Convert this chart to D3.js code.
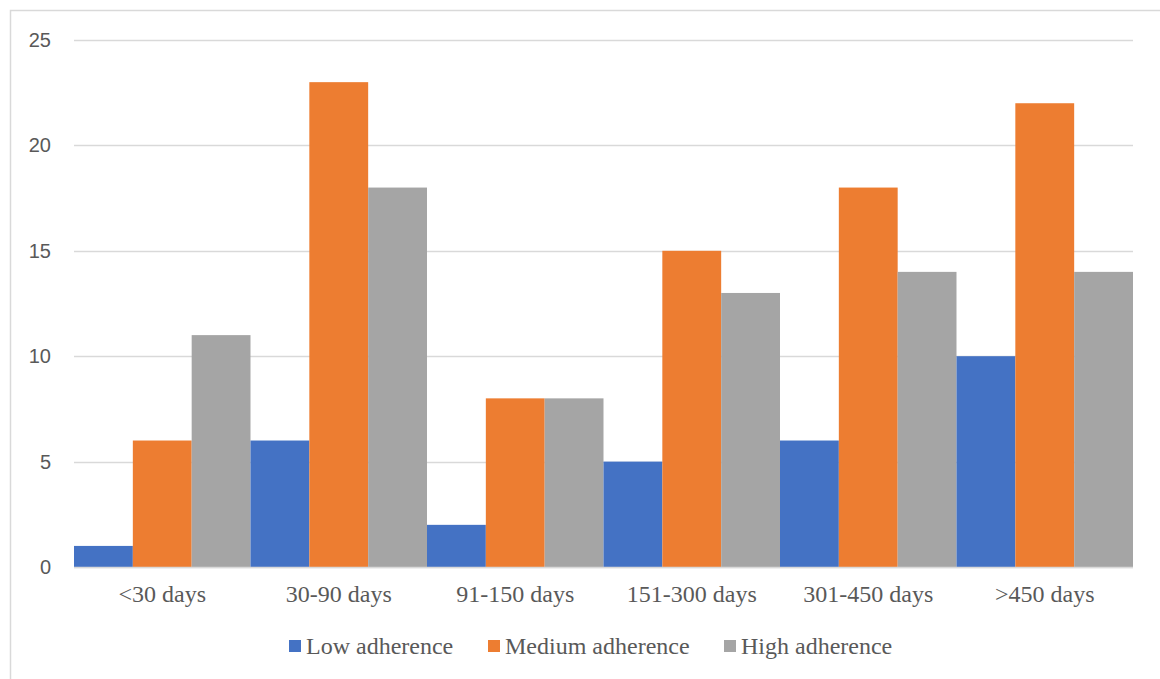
<!DOCTYPE html>
<html>
<head>
<meta charset="utf-8">
<script src="https://cdn.jsdelivr.net/npm/d3@7"></script>
<style>
  html, body { margin: 0; padding: 0; background: #fff; }
  svg { display: block; }
</style>
</head>
<body>
<svg id="chart" width="1160" height="679"></svg>
<script>
// Duration categories and the count per adherence group
const categories = ["<30 days", "30-90 days", "91-150 days", "151-300 days", "301-450 days", ">450 days"];
const seriesNames = ["Low adherence", "Medium adherence", "High adherence"];
const lowValues = [1, 6, 2, 5, 6, 10];
const mediumValues = [6, 23, 8, 15, 18, 22];
const highValues = [11, 18, 8, 13, 14, 14];
const yTicks = [0, 5, 10, 15, 20, 25];
const colors = ["#4472c4", "#ed7d31", "#a5a5a5"];

const series = [lowValues, mediumValues, highValues];

const svg = d3.select("#chart");
const plot = { left: 74, right: 1133, top: 40, bottom: 567 };

// Outer frame (runs off the right and bottom edges)
svg.append("rect")
  .attr("x", 10.5).attr("y", 10.5)
  .attr("width", 1200).attr("height", 700)
  .attr("fill", "none").attr("stroke", "#d9d9d9").attr("stroke-width", 1.5);

const x0 = d3.scaleBand().domain(categories).range([plot.left, plot.right]).paddingInner(0).paddingOuter(0);
const x1 = d3.scaleBand().domain(seriesNames).range([0, x0.bandwidth()]).padding(0);
const y = d3.scaleLinear().domain([0, 25]).range([plot.bottom, plot.top]);

// Horizontal gridlines
svg.append("g")
  .selectAll("line")
  .data(yTicks)
  .join("line")
  .attr("x1", plot.left).attr("x2", plot.right)
  .attr("y1", d => Math.round(y(d)) + 0.5).attr("y2", d => Math.round(y(d)) + 0.5)
  .attr("stroke", "#d9d9d9").attr("stroke-width", 1.3);

// Y axis labels
const yAxis = d3.axisLeft(y).tickValues(yTicks).tickSize(0).tickPadding(0);
const gy = svg.append("g").attr("transform", `translate(51,0)`).call(yAxis);
gy.select(".domain").remove();
gy.selectAll("text")
  .attr("fill", "#595959")
  .style("font-family", "'Liberation Sans', Arial, sans-serif")
  .style("font-size", "20px");

// Bars
const groups = svg.append("g")
  .selectAll("g")
  .data(categories)
  .join("g")
  .attr("transform", d => `translate(${x0(d)},0)`);

groups.selectAll("rect")
  .data((c, i) => seriesNames.map((s, k) => ({ s, v: series[k][i], k })))
  .join("rect")
  .attr("x", d => x1(d.s))
  .attr("width", x1.bandwidth())
  .attr("y", d => y(d.v))
  .attr("height", d => y(0) - y(d.v))
  .attr("fill", d => colors[d.k]);

// Baseline
svg.append("line")
  .attr("x1", plot.left).attr("x2", plot.right)
  .attr("y1", plot.bottom + 0.5).attr("y2", plot.bottom + 0.5)
  .attr("stroke", "#d9d9d9").attr("stroke-width", 1.5);

// X axis labels
const xAxis = d3.axisBottom(x0).tickSize(0).tickPadding(0);
const gx = svg.append("g").attr("transform", `translate(0,${plot.bottom + 35})`).call(xAxis);
gx.select(".domain").remove();
gx.selectAll("text")
  .attr("fill", "#595959")
  .attr("dy", 0)
  .style("font-family", "'Liberation Serif', 'Times New Roman', serif")
  .style("font-size", "24px");

// Legend
const legendX = [289, 488, 724];
const legend = svg.append("g")
  .selectAll("g")
  .data(seriesNames)
  .join("g")
  .attr("transform", (d, i) => `translate(${legendX[i]},647)`);
legend.append("rect")
  .attr("x", 0).attr("y", -7).attr("width", 12).attr("height", 12)
  .attr("fill", (d, i) => colors[i]);
legend.append("text")
  .attr("x", 17).attr("y", 7)
  .attr("fill", "#595959")
  .style("font-family", "'Liberation Serif', 'Times New Roman', serif")
  .style("font-size", "24px")
  .text(d => d);
</script>
</body>
</html>
